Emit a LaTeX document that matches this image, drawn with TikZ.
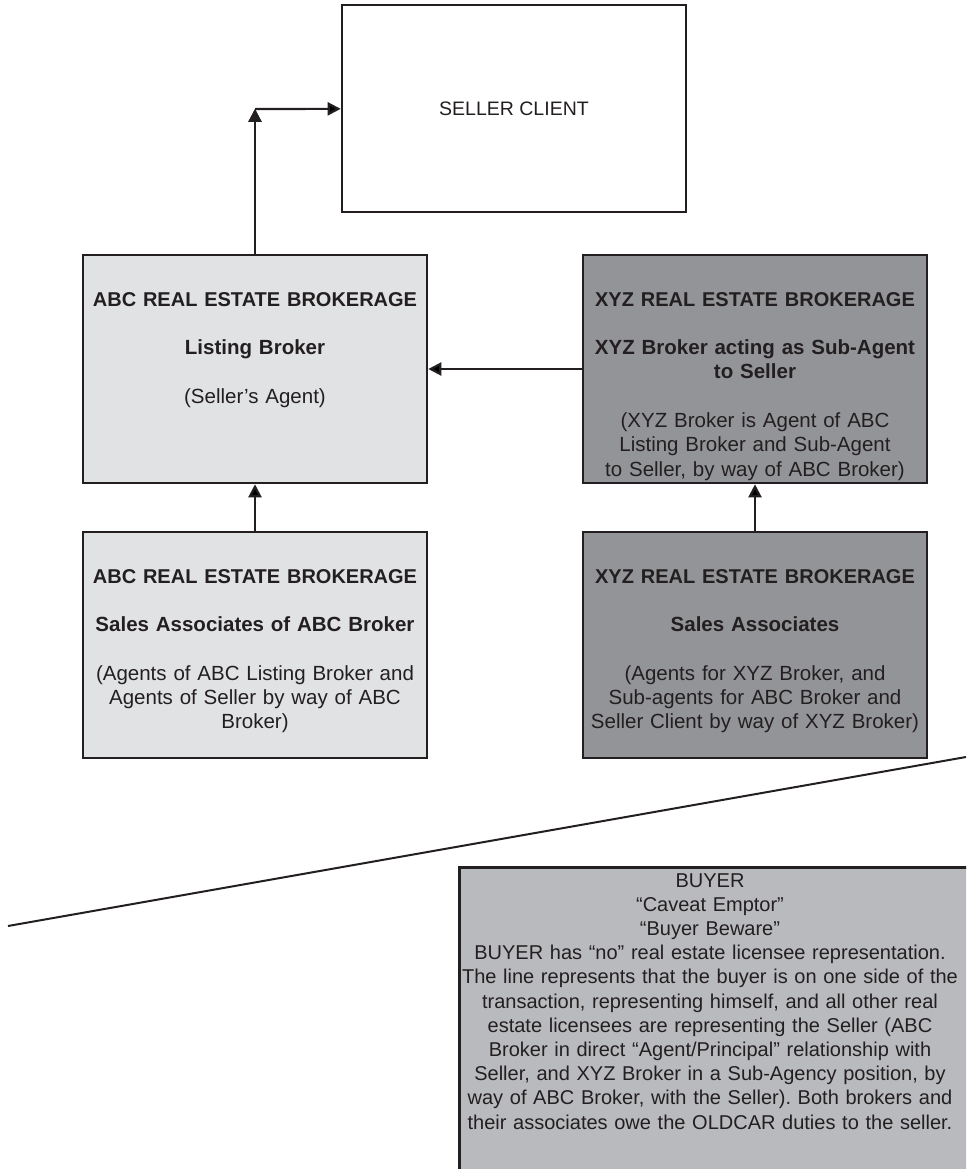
\documentclass[tikz,border=0pt]{standalone}
\usepackage{fontspec}
\setmainfont{Liberation Sans}
\usetikzlibrary{arrows.meta}
\frenchspacing

\definecolor{inkgray}{HTML}{231F20}
\definecolor{abcgray}{HTML}{E1E2E4}
\definecolor{xyzgray}{HTML}{939497}
\definecolor{buyergray}{HTML}{B9BABD}

\newcommand{\boxtitle}[1]{{\fontsize{20}{24.3}\selectfont\bfseries #1}}

\begin{document}
\begin{tikzpicture}[x=1pt, y=-1pt, every node/.style={inner sep=0pt, text=inkgray},
            box_style/.style={draw=inkgray, line width=2.6pt, minimum width=344pt},
            text_style/.style={text width=340pt, align=center, anchor=base, font=\fontsize{20.5}{24.3}\selectfont},
            edge_style/.style={draw=inkgray, line width=2.2pt, -{Triangle[length=13pt,width=13pt]}}]
            \tikzset{abc box/.style={box_style, fill=abcgray, minimum height=228pt}}
            \tikzset{xyz box/.style={box_style, fill=xyzgray, minimum height=228pt}}
            \useasboundingbox (0,0) rectangle (966,1169);
            \clip (0,0) rectangle (966,1169);
            % boxes
            \node [box_style, minimum height=207pt] (seller) at (514,108.5) {\fontsize{19.5}{24}\selectfont SELLER CLIENT};
            \node [abc box] (abclist) at (255,369) {};
            \node [xyz box] (xyzlist) at (755,369) {};
            \node [abc box, minimum height=226pt] (abcsales) at (255,645) {};
            \node [xyz box, minimum height=226pt] (xyzsales) at (755,645) {};
            \node [box_style, fill=buyergray, minimum width=520pt, minimum height=340pt, anchor=north west] (buyer) at (458,866) {};
            % texts
            \node [text_style] (abclisttext) at (255,306) {\boxtitle{ABC REAL ESTATE BROKERAGE}\\[24.3pt]
                \textbf{Listing Broker}\\[24.3pt] (Seller's Agent)};
            \node [text_style] (xyzlisttext) at (755,306) {\boxtitle{XYZ REAL ESTATE BROKERAGE}\\[24.3pt]
                \textbf{XYZ Broker acting as Sub-Agent}\\ \textbf{to Seller}\\[24.3pt]
                (XYZ Broker is Agent of ABC\\ Listing Broker and Sub-Agent\\ to Seller, by way of ABC Broker)};
            \node [text_style] (abcsalestext) at (255,583) {\boxtitle{ABC REAL ESTATE BROKERAGE}\\[24.3pt]
                \textbf{Sales Associates of ABC Broker}\\[24.3pt]
                (Agents of ABC Listing Broker and\\ Agents of Seller by way of ABC\\ Broker)};
            \node [text_style] (xyzsalestext) at (755,583) {\boxtitle{XYZ REAL ESTATE BROKERAGE}\\[24.3pt]
                \textbf{Sales Associates}\\[24.3pt]
                (Agents for XYZ Broker, and\\ Sub-agents for ABC Broker and\\ Seller Client by way of XYZ Broker)};
            \node [text_style, text width=510pt, font=\fontsize{20}{24.2}\selectfont] (buyertext) at (710,887) {BUYER\\
                “Caveat Emptor”\\ “Buyer Beware”\\
                BUYER has “no” real estate licensee representation.\\
                The line represents that the buyer is on one side of the\\
                transaction, representing himself, and all other real\\
                estate licensees are representing the Seller (ABC\\
                Broker in direct “Agent/Principal” relationship with\\
                Seller, and XYZ Broker in a Sub-Agency position, by\\
                way of ABC Broker, with the Seller). Both brokers and\\
                their associates owe the OLDCAR duties to the seller.};
            % connectors
            \coordinate (bend) at (255,109);
            \coordinate (cutleft) at (8,926);
            \coordinate (cutright) at (966,757);
            \draw [edge_style] (abclist) edge (bend) {};
            \draw [edge_style] (bend) edge (seller) {};
            \draw [edge_style] (xyzlist) edge (abclist) {};
            \draw [edge_style] (abcsales) edge (abclist) {};
            \draw [edge_style] (xyzsales) edge (xyzlist) {};
            \draw [draw=inkgray, line width=2pt] (cutleft) -- (cutright);
        \end{tikzpicture}
\end{document}
